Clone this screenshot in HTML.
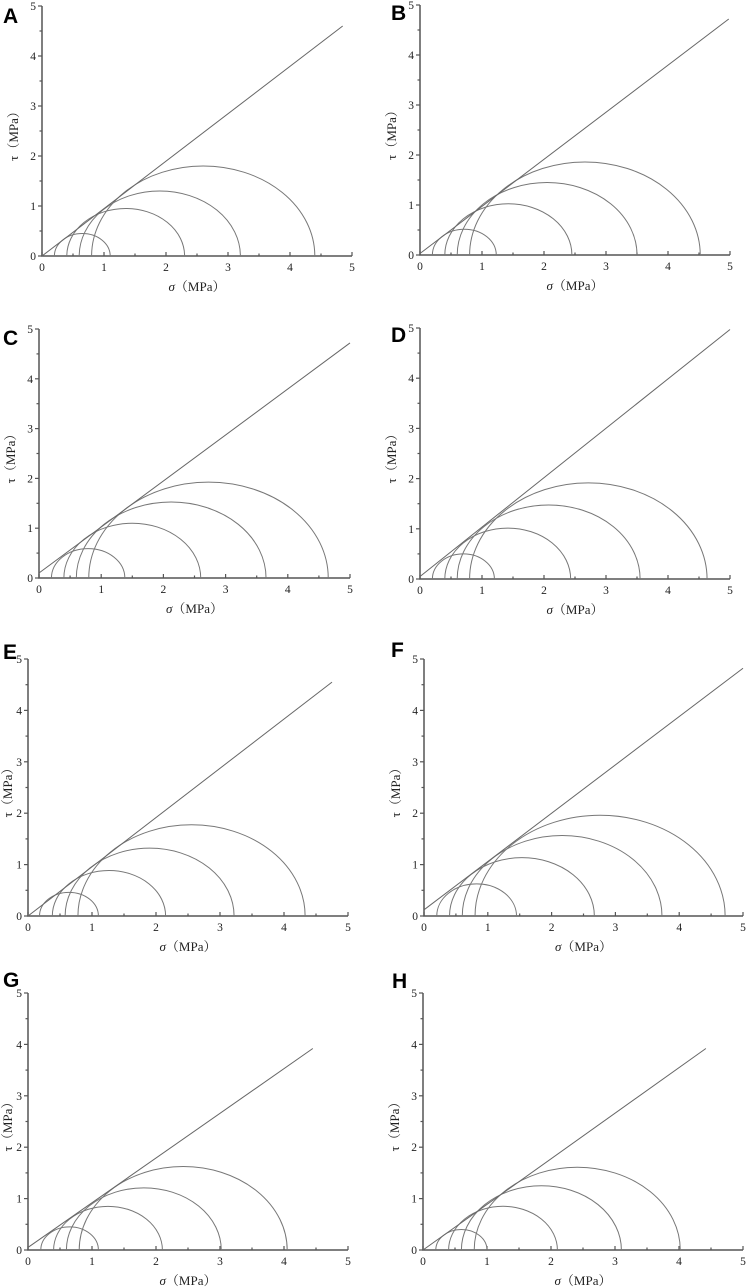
<!DOCTYPE html>
<html><head><meta charset="utf-8"><style>
html,body{margin:0;padding:0;background:#fff;}
svg{display:block;}
text{font-family:"Liberation Serif","Noto Serif CJK SC",serif;fill:#222;}
.lbl{font-family:"Liberation Sans",Arial,sans-serif;font-weight:bold;font-size:21px;fill:#000;}
</style></head><body>
<svg id="fig" width="747" height="1287" viewBox="0 0 747 1287" xmlns="http://www.w3.org/2000/svg"></svg>
<script>
// Panel data: left/right sigma of each Mohr circle, and strength envelope line endpoints
const panelNames = ["A","B","C","D","E","F","G","H"];
const circleLeft = [
  [0.2,0.4,0.6,0.8],[0.2,0.4,0.6,0.8],[0.2,0.4,0.6,0.8],[0.2,0.4,0.6,0.8],
  [0.18,0.38,0.58,0.78],[0.2,0.4,0.6,0.8],[0.2,0.4,0.6,0.8],[0.2,0.4,0.6,0.8]
];
const circleRight = [
  [1.1,2.3,3.2,4.4],[1.23,2.45,3.5,4.52],[1.38,2.6,3.65,4.65],[1.2,2.43,3.55,4.63],
  [1.1,2.15,3.22,4.33],[1.45,2.67,3.73,4.72],[1.1,2.1,3.02,4.05],[1.0,2.1,3.1,4.02]
];
const lineStart = [[0,0],[0,0.03],[0,0.1],[0,0.05],[0,0],[0,0.12],[0,0.05],[0,0]];
const lineEnd = [[4.85,4.6],[4.98,4.72],[5,4.72],[5,4.97],[4.75,4.55],[5,4.82],[4.45,3.92],[4.42,3.92]];
const tickLabels = ["0","1","2","3","4","5"];

// layout (pixels) for each panel: x0, x5, y0, y5, letter x, letter baseline
const layout = [
  [42,352,256,6,3,23],[420,730,255,5,391,20],
  [39,350,578,329,3,345],[420,730,579,328,391,342],
  [28,348,916,659,3,659],[424,743,916,659,391,657],
  [28,348,1250,993,3,987],[423,743,1250,993,392,988]
];
const svg = document.getElementById('fig');
const NS = "http://www.w3.org/2000/svg";
function mk(tag, attrs, parent){
  const e = document.createElementNS(NS, tag);
  for (const k in attrs) e.setAttribute(k, attrs[k]);
  (parent||svg).appendChild(e);
  return e;
}
panelNames.forEach((name, p) => {
  const [x0,x5,y0,y5,lx,ly] = layout[p];
  const sx = v => x0 + (x5-x0)*v/5;
  const sy = v => y0 - (y0-y5)*v/5;
  const g = mk('g', {});
  
  
  const letter = mk('text', {x:lx, y:ly, class:'lbl'}, g);
  letter.textContent = name;
  
  
  const ax = mk('path', {d:`M${x0},${y5} L${x0},${y0} L${x5},${y0}`, fill:'none', stroke:'#555', 'stroke-width':1.5}, g);
  
  
  for (let i=0;i<=10;i++){
    const v=i/2, major=i%2===0, len=major?4:2.5;
    mk('line',{x1:sx(v),y1:y0,x2:sx(v),y2:y0-len,stroke:'#555','stroke-width':1.2},g);
    mk('line',{x1:x0,y1:sy(v),x2:x0-len,y2:sy(v),stroke:'#555','stroke-width':1.2},g);
  }
  tickLabels.forEach((t,i)=>{
    const tx = mk('text',{x:sx(i), y:y0+15, 'font-size':11.5, 'text-anchor':'middle'}, g);
    tx.textContent = t;
    
    
    const ty = mk('text',{x:x0-6, y:sy(i)+4, 'font-size':11.5, 'text-anchor':'end'}, g);
    ty.textContent = t;
    
    
  });
  const xt = mk('text',{x:(x0+x5)/2, y:y0+35, 'font-size':13, 'text-anchor':'middle'}, g);
  xt.innerHTML = '<tspan font-style="italic">σ</tspan>（MPa）';
  
  
  const ycx = Math.max(x0-24, 12), ycy = (y0+y5)/2+2;
  const yt = mk('text',{x:ycx, y:ycy, 'font-size':13, 'text-anchor':'middle', transform:`rotate(-90 ${ycx} ${ycy})`}, g);
  yt.textContent = 'τ（MPa）';
  
  
  circleLeft[p].forEach((l,i)=>{
    const r = circleRight[p][i];
    const rx = (sx(r)-sx(l))/2, ry = (y0 - sy((r-l)/2));
    const arc = mk('path',{d:`M${sx(l)},${y0} A${rx},${ry} 0 0 1 ${sx(r)},${y0}`, fill:'none', stroke:'#777', 'stroke-width':1}, g);
    
    
  });
  const ln = mk('line',{x1:sx(lineStart[p][0]),y1:sy(lineStart[p][1]),x2:sx(lineEnd[p][0]),y2:sy(lineEnd[p][1]),stroke:'#666','stroke-width':1}, g);
  
  
});
</script>
</body></html>
